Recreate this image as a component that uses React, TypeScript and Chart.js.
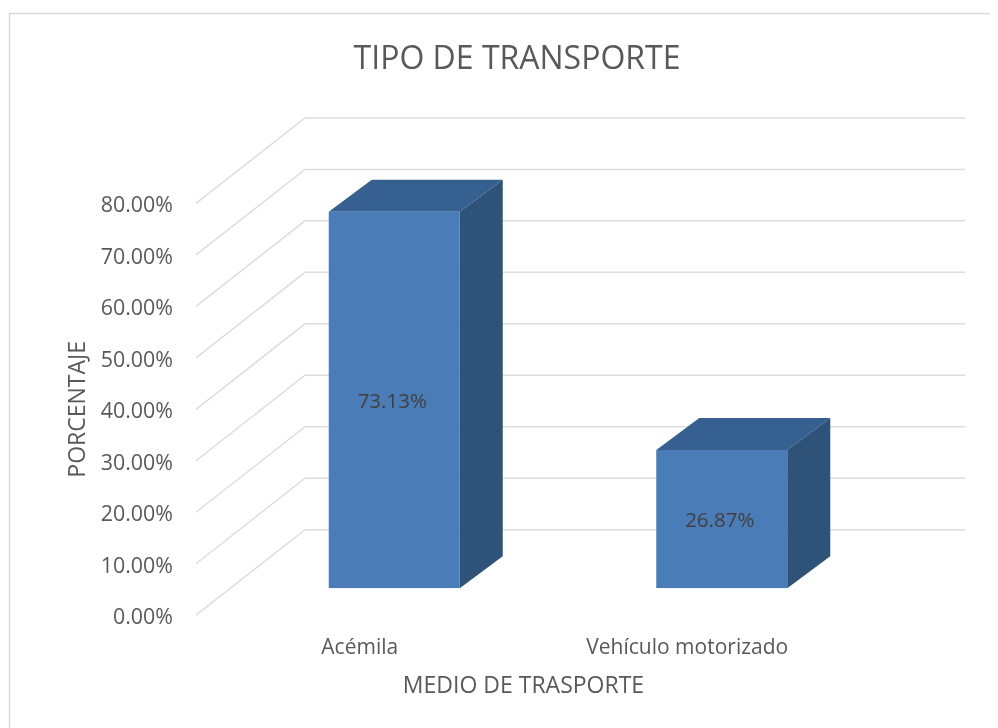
import React, { useEffect, useRef } from "react";
import { Chart, registerables } from "chart.js";

Chart.register(...registerables);

const categories = ["Acémila", "Vehículo motorizado"];
const percentages = [73.13, 26.87];
const chartTitle = "TIPO DE TRANSPORTE";
const xTitle = "MEDIO DE TRASPORTE";
const yTitle = "PORCENTAJE";

const FONT = "'Open Sans', sans-serif";
const TEXT = "#595959";
const GRID = "#dedede";
const depth = { x: 109, y: -85.5 };
const barDepth = { x: 43, y: -32 };
const barShift = { x: 34.5, y: -27 };

const frame3d = {
  id: "frame3d",
  beforeDraw(chart: any) {
    const { ctx, width, height } = chart;
    ctx.save();
    ctx.fillStyle = "#ffffff";
    ctx.fillRect(0, 0, width, height);
    ctx.strokeStyle = "#d9d9d9";
    ctx.lineWidth = 1.5;
    ctx.beginPath();
    ctx.moveTo(9.5, height);
    ctx.lineTo(9.5, 13.5);
    ctx.lineTo(990, 13.5);
    ctx.stroke();
    ctx.restore();
  },
  beforeDatasetsDraw(chart: any) {
    const { ctx, chartArea } = chart;
    const y = chart.scales.y;
    ctx.save();
    ctx.strokeStyle = GRID;
    ctx.lineWidth = 1.5;
    for (const t of y.ticks) {
      const py = y.getPixelForValue(t.value);
      const bx = chartArea.left + depth.x;
      ctx.beginPath();
      ctx.moveTo(chartArea.left, py);
      ctx.lineTo(bx, py + depth.y);
      ctx.lineTo(965, py + depth.y);
      ctx.stroke();
    }
    ctx.restore();

    const meta = chart.getDatasetMeta(0);
    ctx.save();
    for (const bar of meta.data) {
      const l = bar.x - bar.width / 2 + barShift.x;
      const r = bar.x + bar.width / 2 + barShift.x;
      const t = bar.y + barShift.y;
      const b = bar.base + barShift.y;
      ctx.fillStyle = "#35608f";
      ctx.beginPath();
      ctx.moveTo(l, t);
      ctx.lineTo(l + barDepth.x, t + barDepth.y);
      ctx.lineTo(r + barDepth.x, t + barDepth.y);
      ctx.lineTo(r, t);
      ctx.closePath();
      ctx.fill();
      ctx.fillStyle = "#2f5279";
      ctx.beginPath();
      ctx.moveTo(r, t);
      ctx.lineTo(r + barDepth.x, t + barDepth.y);
      ctx.lineTo(r + barDepth.x, b + barDepth.y);
      ctx.lineTo(r, b);
      ctx.closePath();
      ctx.fill();
    }
    ctx.restore();
    ctx.save();
    ctx.translate(barShift.x, barShift.y);
  },
  afterDatasetsDraw(chart: any) {
    const { ctx } = chart;
    ctx.restore();
    const meta = chart.getDatasetMeta(0);
    ctx.save();
    ctx.fillStyle = "#404040";
    ctx.font = `20.5px ${FONT}`;
    ctx.textAlign = "center";
    ctx.textBaseline = "middle";
    meta.data.forEach((bar: any, i: number) => {
      ctx.fillText(
        percentages[i].toFixed(2) + "%",
        bar.x + barShift.x - 2,
        (bar.y + bar.base) / 2 + barShift.y + 2
      );
    });
    ctx.restore();
  },
};

export default function App() {
  const ref = useRef<HTMLCanvasElement>(null);
  useEffect(() => {
    const chart = new Chart(ref.current as HTMLCanvasElement, {
      type: "bar",
      data: {
        labels: categories,
        datasets: [
          {
            data: percentages,
            backgroundColor: "#4a7cb8",
            barPercentage: 131 / 327.5,
            categoryPercentage: 1,
          },
        ],
      },
      options: {
        responsive: false,
        animation: false,
        layout: { padding: { top: 0, left: 65, right: 29, bottom: 28 } },
        plugins: {
          legend: { display: false },
          tooltip: { enabled: false },
          title: {
            display: true,
            text: chartTitle,
            color: TEXT,
            font: { family: FONT, size: 32, weight: "normal" },
            padding: { top: 41, bottom: 124 },
          },
        },
        scales: {
          x: {
            grid: { display: false, drawTicks: false },
            border: { display: false },
            ticks: {
              color: TEXT,
              font: { family: FONT, size: 21 },
              padding: 20,
              maxRotation: 0,
              autoSkip: false,
            },
            title: {
              display: true,
              text: xTitle,
              color: TEXT,
              font: { family: FONT, size: 23 },
              padding: { top: -8, bottom: 0 },
            },
          },
          y: {
            min: 0,
            max: 80,
            grid: { display: false, drawTicks: false },
            border: { display: false },
            ticks: {
              stepSize: 10,
              color: TEXT,
              font: { family: FONT, size: 21.4 },
              padding: 23,
              labelOffset: 3,
              callback: (v: any) => Number(v).toFixed(2) + "%",
            },
            title: {
              display: true,
              text: yTitle,
              color: TEXT,
              font: { family: FONT, size: 23 },
              padding: { top: 0, bottom: 0 },
            },
            afterFit(scale: any) {
              scale.width = 131;
            },
          },
          depthSpace: {
            position: "right",
            grid: { display: false, drawTicks: false },
            border: { display: false },
            ticks: { display: false },
            afterFit(scale: any) {
              scale.width = 118;
            },
          },
        },
        events: [],
      },
      plugins: [frame3d],
    } as any);
    return () => chart.destroy();
  }, []);
  return (
    <canvas
      ref={ref}
      width={998}
      height={728}
      style={{ position: "absolute", left: 0, top: 0, display: "block" }}
    />
  );
}
